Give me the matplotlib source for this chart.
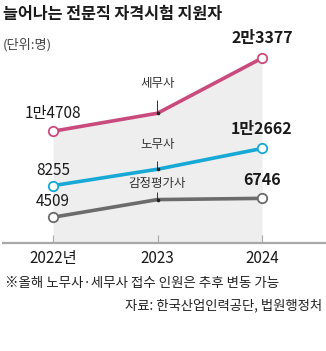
import matplotlib
matplotlib.use("Agg")
import matplotlib.pyplot as plt

plt.rcParams['font.family'] = ['Noto Sans CJK KR', 'DejaVu Sans']

# data (명)
years = [2022, 2023, 2024]
year_labels = ["2022년", "2023", "2024"]
tax = [14708, 16840, 23377]       # 세무사
labor = [8255, 10200, 12662]      # 노무사
appraiser = [4509, 6600, 6746]    # 감정평가사
tax_labels = ["1만4708", "2만3377"]
labor_labels = ["8255", "1만2662"]
appr_labels = ["4509", "6746"]

W, H = 326, 351
fig = plt.figure(figsize=(W / 100, H / 100), dpi=100)
ax = fig.add_axes([0, 0, 1, 1])
ax.set_xlim(2021.493, 2024.612)
ax.set_ylim(-11352, 30265)
ax.axis("off")

base = 1453  # x-axis level

pink = "#c94a7c"
cyan = "#17a8d6"
gray = "#6b6b6b"

# shaded area under the top line
ax.fill_between(years, base, tax, color="#eeeeee", lw=0, zorder=0)

# axis line and ticks
ax.axhline(base, xmin=0.01, xmax=1, color="#a8a8a8", lw=1.6, zorder=1)
ax.vlines(years, base, base + 900, color="#a8a8a8", lw=0.8, zorder=1)

for vals, col in [(tax, pink), (labor, cyan), (appraiser, gray)]:
    ax.plot(years, vals, color=col, lw=2.6, zorder=3, solid_capstyle="round")
    ax.plot([years[0], years[-1]], [vals[0], vals[-1]], ls="none", marker="o",
            ms=6.8, mfc="white", mec=col, mew=1.3, zorder=4)

# value labels
for vals, labs, dl, dr in [(tax, tax_labels, 18, 20), (labor, labor_labels, 15, 19),
                           (appraiser, appr_labels, 16, 18)]:
    ax.annotate(labs[0], (years[0], vals[0]), xytext=(0, dl), textcoords="offset pixels",
                ha="center", va="center", fontsize=11, color="#1a1a1a")
    ax.annotate(labs[1], (years[-1], vals[-1]), xytext=(0, dr), textcoords="offset pixels",
                ha="center", va="center", fontsize=11.5, fontweight="bold", color="#1a1a1a")

# series names with leader lines
for name, vals, off in [("세무사", tax, 30), ("노무사", labor, 25), ("감정평가사", appraiser, 16)]:
    ax.annotate(name, (years[1], vals[1]), xytext=(0, off), textcoords="offset pixels",
                ha="center", va="center", fontsize=9, color="#333333",
                arrowprops=dict(arrowstyle="-", color="#333333", lw=0.7,
                                shrinkA=6, shrinkB=0), zorder=5)
    ax.plot(years[1], vals[1], marker="o", ms=1.6, color="#222222", zorder=5)

# year labels
for x, lab in zip(years, year_labels):
    ax.annotate(lab, (x, base), xytext=(0, -15), textcoords="offset pixels",
                ha="center", va="center", fontsize=11, color="#1a1a1a")

fig.text(3 / W, 1 - 14 / H, "늘어나는 전문직 자격시험 지원자", fontsize=11.7,
         fontweight="bold", va="center", ha="left", color="#1a1a1a")
fig.text(3 / W, 1 - 45 / H, "(단위:명)", fontsize=9.5, va="center", ha="left", color="#444444")
fig.text(5 / W, 1 - 283 / H, "※올해 노무사·세무사 접수 인원은 추후 변동 가능", fontsize=9.7,
         va="center", ha="left", color="#222222")
fig.text(322 / W, 1 - 305 / H, "자료: 한국산업인력공단, 법원행정처", fontsize=9.6,
         va="center", ha="right", color="#222222")

fig.savefig("out.png", dpi=100)
